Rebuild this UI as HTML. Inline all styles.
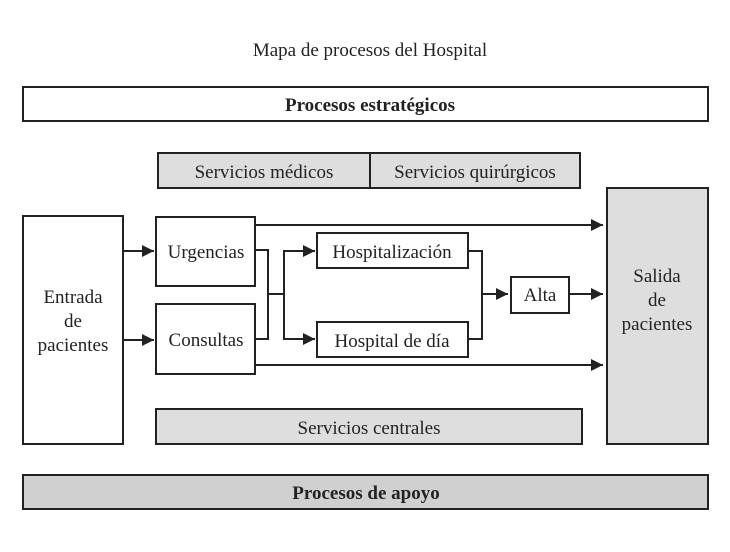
<!DOCTYPE html>
<html><head><meta charset="utf-8"><style>
body{margin:0;background:#fff}
svg text{font-family:"Liberation Serif",serif;fill:#222}
</style></head><body>
<svg width="730" height="547" viewBox="0 0 730 547" xmlns="http://www.w3.org/2000/svg">
<defs><marker id="a" markerWidth="12" markerHeight="12" refX="12" refY="6" orient="auto" markerUnits="userSpaceOnUse"><path d="M0,0 L12,6 L0,12 z" fill="#222"/></marker></defs>
<g stroke="#222" stroke-width="2" font-size="19" text-anchor="middle">
<text x="370" y="56" stroke="none">Mapa de procesos del Hospital</text>
<rect x="23" y="87" width="685" height="34" fill="#fff"/>
<text x="370" y="111" stroke="none" font-weight="bold">Procesos estratégicos</text>
<rect x="158" y="153" width="212" height="35" fill="#dedede"/>
<rect x="370" y="153" width="210" height="35" fill="#dedede"/>
<text x="264" y="178" stroke="none">Servicios médicos</text>
<text x="475" y="178" stroke="none">Servicios quirúrgicos</text>
<rect x="23" y="216" width="100" height="228" fill="#fff"/>
<text x="73" y="303" stroke="none">Entrada</text>
<text x="73" y="327" stroke="none">de</text>
<text x="73" y="351" stroke="none">pacientes</text>
<rect x="156" y="217" width="99" height="69" fill="#fff"/>
<text x="206" y="258" stroke="none">Urgencias</text>
<rect x="156" y="304" width="99" height="70" fill="#fff"/>
<text x="206" y="346" stroke="none">Consultas</text>
<rect x="317" y="233" width="151" height="35" fill="#fff"/>
<text x="392" y="258" stroke="none">Hospitalización</text>
<rect x="317" y="322" width="151" height="35" fill="#fff"/>
<text x="392" y="347" stroke="none">Hospital de día</text>
<rect x="511" y="277" width="58" height="36" fill="#fff"/>
<text x="540" y="301" stroke="none">Alta</text>
<rect x="607" y="188" width="101" height="256" fill="#dedede"/>
<text x="657" y="282" stroke="none">Salida</text>
<text x="657" y="306" stroke="none">de</text>
<text x="657" y="330" stroke="none">pacientes</text>
<rect x="156" y="409" width="426" height="35" fill="#dedede"/>
<text x="369" y="434" stroke="none">Servicios centrales</text>
<rect x="23" y="475" width="685" height="34" fill="#d0d0d0"/>
<text x="366" y="499" stroke="none" font-weight="bold">Procesos de apoyo</text>
<g fill="none">
<line x1="123" y1="251" x2="154" y2="251" marker-end="url(#a)"/>
<line x1="123" y1="340" x2="154" y2="340" marker-end="url(#a)"/>
<line x1="255" y1="225" x2="603" y2="225" marker-end="url(#a)"/>
<line x1="255" y1="365" x2="603" y2="365" marker-end="url(#a)"/>
<polyline points="255,250 268,250 268,339 255,339"/>
<line x1="268" y1="294" x2="284" y2="294"/>
<polyline points="315,251 284,251 284,339 315,339"/>
<line x1="284" y1="251" x2="315" y2="251" marker-end="url(#a)"/>
<line x1="284" y1="339" x2="315" y2="339" marker-end="url(#a)"/>
<polyline points="468,251 482,251 482,339 468,339"/>
<line x1="482" y1="294" x2="508" y2="294" marker-end="url(#a)"/>
<line x1="569" y1="294" x2="603" y2="294" marker-end="url(#a)"/>
</g>
</g>
</svg>
</body></html>
